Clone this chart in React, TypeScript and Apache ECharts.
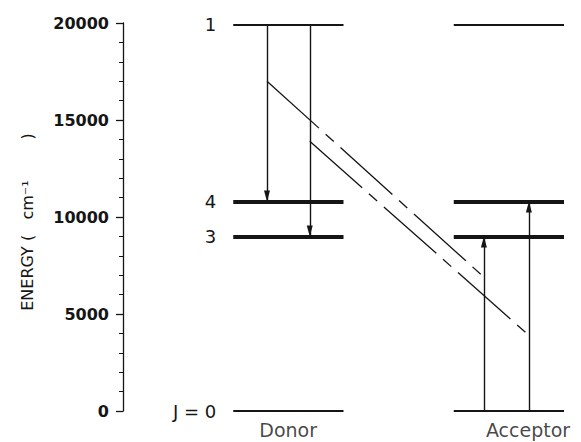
import { useEffect, useRef } from "react";
import * as echarts from "echarts";

// Energy levels (cm^-1) and their J labels, shared by donor and acceptor
const levelNames = ["J = 0", "3", "4", "1"];
const levelEnergies = [0, 9000, 10800, 19900];

// Horizontal extent of each species' level ladder (abstract x units, 0–100)
const donorSpan = [24.5, 49];
const acceptorSpan = [73.5, 98];

// Donor emission: from level 1 down to levels 4 and 3
const emissionX = [32, 41.5];
const emissionFrom = [19900, 19900];
const emissionTo = [10800, 9000];

// Acceptor absorption: from ground up to levels 3 and 4
const absorptionX = [80.2, 90.2];
const absorptionFrom = [0, 0];
const absorptionTo = [9000, 10800];

// Energy-transfer (cross-relaxation) lines linking donor and acceptor transitions
const transferStartX = [32, 41.5];
const transferStartE = [17000, 13900];
const transferEndX = [80.2, 90.2];
const transferEndE = [6900, 3900];

// Species names under the ladders
const speciesNames = ["Donor", "Acceptor"];
const speciesX = [36.7, 90];
const speciesE = [-1000, -1000];

const INK = "#151515";
const FONT = "DejaVu Sans";

// Arrowhead outlines; the tip sits on the edge that the offset moves onto the level
const HEAD_DOWN = "path://M0,0 L6,0 L3,11 Z";
const HEAD_UP = "path://M3,0 L6,11 L0,11 Z";
const HEAD_SIZE: [number, number] = [6, 11];

export default function App() {
  const ref = useRef<HTMLDivElement>(null);

  useEffect(() => {
    if (!ref.current) return;
    document.body.style.margin = "0";
    const chart = echarts.init(ref.current, undefined, { renderer: "svg" });

    const thickLevel = (name: string) => name === "3" || name === "4";

    const levelData: any[] = [];
    levelNames.forEach((name, i) => {
      const e = levelEnergies[i];
      const w = thickLevel(name) ? 4 : 2;
      levelData.push({
        name,
        coords: [
          [donorSpan[0], e],
          [donorSpan[1], e],
        ],
        lineStyle: { width: w },
        label: { show: true },
      });
      levelData.push({
        name,
        coords: [
          [acceptorSpan[0], e],
          [acceptorSpan[1], e],
        ],
        lineStyle: { width: w },
        label: { show: false },
      });
    });

    const shaftData: any[] = [];
    const headData: any[] = [];
    emissionX.forEach((x, i) => {
      shaftData.push({
        coords: [
          [x, emissionFrom[i]],
          [x, emissionTo[i]],
        ],
      });
      headData.push({
        value: [x, emissionTo[i]],
        symbol: HEAD_DOWN,
        symbolOffset: [0, -HEAD_SIZE[1] / 2],
      });
    });
    absorptionX.forEach((x, i) => {
      shaftData.push({
        coords: [
          [x, absorptionFrom[i]],
          [x, absorptionTo[i]],
        ],
      });
      headData.push({
        value: [x, absorptionTo[i]],
        symbol: HEAD_UP,
        symbolOffset: [0, HEAD_SIZE[1] / 2],
      });
    });

    const transferData = transferStartX.map((x, i) => ({
      coords: [
        [x, transferStartE[i]],
        [transferEndX[i], transferEndE[i]],
      ],
    }));

    chart.setOption({
      animation: false,
      backgroundColor: "#ffffff",
      grid: { left: 123, right: 8, top: 23, bottom: 31 },
      xAxis: { type: "value", min: 0, max: 100, show: false },
      yAxis: {
        type: "value",
        min: 0,
        max: 20000,
        interval: 5000,
        name: "ENERGY (   cm⁻¹        )  ",
        nameLocation: "middle",
        nameGap: 88,
        nameTextStyle: { fontFamily: FONT, fontSize: 16, color: INK },
        axisLine: { show: true, lineStyle: { color: INK, width: 1.3 } },
        axisTick: { show: true, length: 7, lineStyle: { color: INK, width: 1.3 } },
        minorTick: { show: true, splitNumber: 5, length: 4, lineStyle: { color: INK, width: 1 } },
        splitLine: { show: false },
        axisLabel: {
          margin: 14,
          fontFamily: FONT,
          fontSize: 16,
          fontWeight: "bold",
          color: INK,
          formatter: (v: number) => String(v),
        },
      },
      series: [
        {
          type: "lines",
          name: "levels",
          coordinateSystem: "cartesian2d",
          clip: false,
          symbol: ["none", "none"],
          lineStyle: { color: INK, opacity: 1 },
          label: {
            position: "start",
            distance: 17,
            fontFamily: FONT,
            fontSize: 18,
            color: INK,
            formatter: (p: any) => p.name,
          },
          data: levelData,
          z: 2,
        },
        {
          type: "lines",
          name: "radiative",
          coordinateSystem: "cartesian2d",
          clip: false,
          symbol: ["none", "none"],
          lineStyle: { color: INK, width: 1.4, opacity: 1 },
          data: shaftData,
          z: 3,
        },
        {
          type: "scatter",
          name: "arrowheads",
          clip: false,
          symbolSize: HEAD_SIZE,
          itemStyle: { color: INK, opacity: 1 },
          data: headData,
          z: 4,
        },
        {
          type: "lines",
          name: "transfer",
          coordinateSystem: "cartesian2d",
          clip: false,
          symbol: ["none", "none"],
          lineStyle: { color: INK, width: 1.3, opacity: 1, type: [70, 9, 11, 9] },
          data: transferData,
          z: 3,
        },
        {
          type: "scatter",
          name: "species",
          clip: false,
          symbolSize: 1,
          itemStyle: { color: "transparent" },
          label: {
            show: true,
            position: "inside",
            fontFamily: FONT,
            fontSize: 19,
            color: INK,
            formatter: (p: any) => p.name,
          },
          data: speciesNames.map((n, i) => ({ name: n, value: [speciesX[i], speciesE[i]] })),
        },
      ],
    });

    return () => chart.dispose();
  }, []);

  return <div ref={ref} style={{ width: 581, height: 442 }} />;
}
